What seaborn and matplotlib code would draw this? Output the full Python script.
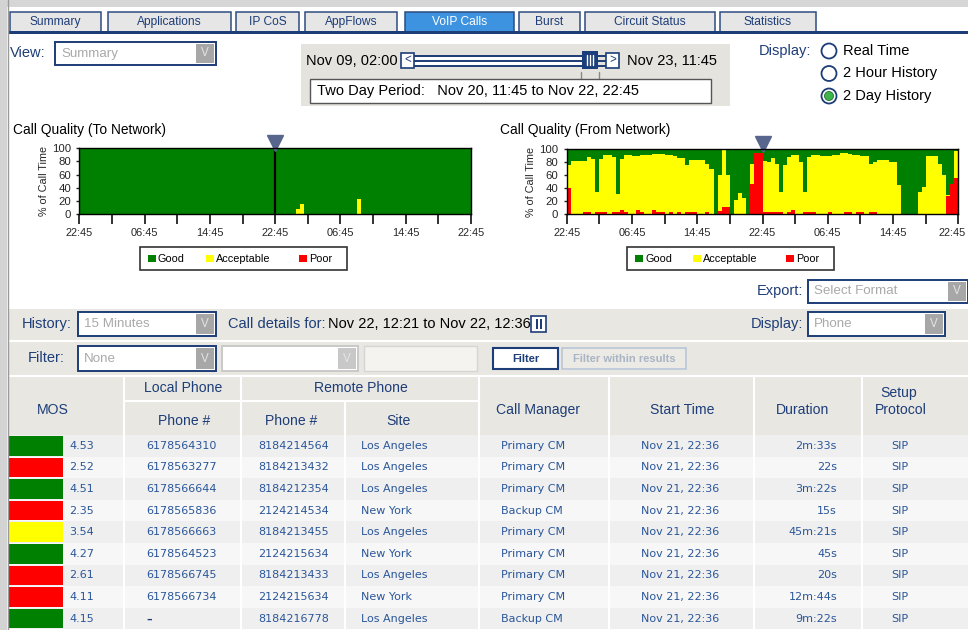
import numpy as np
import pandas as pd
import matplotlib
matplotlib.use("Agg")
import matplotlib.pyplot as plt
import matplotlib.transforms as mtrans
import seaborn as sns
from matplotlib import font_manager
from matplotlib.patches import Rectangle, Circle

# ---- chart data -------------------------------------------------------------
# half-hour bins over the two day window that starts at 22:45
binHours = np.arange(0.25, 48, 0.5)
tickLabels = ["22:45", "06:45", "14:45", "22:45", "06:45", "14:45", "22:45"]
qualityLevels = ["Good", "Acceptable", "Poor"]
qualityColors = {"Good": "#008000", "Acceptable": "#ffff00", "Poor": "#ff0000"}

# To Network: % acceptable per bin, no poor calls
toAcceptable = [
    0, 0, 0, 0, 0, 0, 0, 0, 0, 0, 0, 0, 0, 0, 0, 0, 0, 0, 0, 0, 0, 0, 0, 0,
    0, 0, 0, 0, 0, 0, 0, 0, 0, 0, 0, 0, 0, 0, 0, 0, 0, 0, 0, 0, 0, 0, 0, 0,
    0, 0, 0, 0, 0, 8, 15, 0, 0, 0, 0, 0, 0, 0, 0, 0, 0, 0, 0, 0, 23, 0, 0, 0,
    0, 0, 0, 0, 0, 0, 0, 0, 0, 0, 0, 0, 0, 0, 0, 0, 0, 0, 0, 0, 0, 0, 0, 0,
]
toPoor = [
    0, 0, 0, 0, 0, 0, 0, 0, 0, 0, 0, 0, 0, 0, 0, 0, 0, 0, 0, 0, 0, 0, 0, 0,
    0, 0, 0, 0, 0, 0, 0, 0, 0, 0, 0, 0, 0, 0, 0, 0, 0, 0, 0, 0, 0, 0, 0, 0,
    0, 0, 0, 0, 0, 0, 0, 0, 0, 0, 0, 0, 0, 0, 0, 0, 0, 0, 0, 0, 0, 0, 0, 0,
    0, 0, 0, 0, 0, 0, 0, 0, 0, 0, 0, 0, 0, 0, 0, 0, 0, 0, 0, 0, 0, 0, 0, 0,
]

# From Network: top of the acceptable band (poor + acceptable) and poor share
fromTop = [
    76, 82, 82, 82, 82, 88, 85, 35, 85, 91, 91, 88, 32, 85, 91, 91, 90, 90, 91, 92, 92, 93, 93, 93,
    91, 91, 90, 87, 87, 76, 83, 83, 83, 83, 78, 70, 0, 60, 100, 60, 0, 22, 33, 25, 0, 78, 95, 95,
    82, 81, 86, 77, 35, 76, 88, 91, 91, 80, 35, 88, 91, 91, 89, 89, 90, 91, 92, 94, 94, 93, 91, 91,
    89, 89, 77, 81, 83, 83, 83, 80, 80, 45, 0, 0, 0, 0, 35, 42, 89, 89, 89, 77, 60, 30, 47, 98,
]
fromPoor = [
    40, 0, 0, 0, 3, 3, 0, 3, 3, 3, 0, 3, 3, 6, 3, 0, 0, 6, 3, 0, 0, 6, 3, 3,
    0, 3, 0, 3, 0, 3, 3, 3, 0, 0, 3, 0, 0, 5, 11, 11, 0, 0, 0, 0, 0, 47, 95, 95,
    3, 3, 3, 3, 3, 0, 3, 6, 0, 0, 3, 3, 3, 0, 0, 0, 3, 0, 0, 0, 3, 3, 0, 3,
    3, 0, 3, 3, 0, 0, 0, 0, 0, 0, 0, 0, 0, 0, 0, 0, 0, 0, 0, 0, 0, 28, 47, 56,
]

# ---- call detail table ------------------------------------------------------
mosQuality = ["Good", "Poor", "Good", "Poor", "Acceptable", "Good", "Poor", "Poor", "Good"]
mosScores = ["4.53", "2.52", "4.51", "2.35", "3.54", "4.27", "2.61", "4.11", "4.15"]
localPhones = ["6178564310", "6178563277", "6178566644", "6178565836", "6178566663",
               "6178564523", "6178566745", "6178566734", "–"]
remotePhones = ["8184214564", "8184213432", "8184212354", "2124214534", "8184213455",
                "2124215634", "8184213433", "2124215634", "8184216778"]
sites = ["Los Angeles", "Los Angeles", "Los Angeles", "New York", "Los Angeles",
         "New York", "Los Angeles", "New York", "Los Angeles"]
callManagers = ["Primary CM", "Primary CM", "Primary CM", "Backup CM", "Primary CM",
                "Primary CM", "Primary CM", "Primary CM", "Backup CM"]
startTimes = ["Nov 21, 22:36"] * 9
durations = ["2m:33s", "22s", "3m:22s", "15s", "45m:21s", "45s", "20s", "12m:44s", "9m:22s"]
protocols = ["SIP"] * 9

tabNames = ["Summary", "Applications", "IP CoS", "AppFlows", "VoIP Calls", "Burst",
            "Circuit Status", "Statistics"]
activeTab = "VoIP Calls"
displayModes = ["Real Time", "2 Hour History", "2 Day History"]
selectedMode = "2 Day History"

W, H = 968, 630
navy = "#1d3d78"
tableBlue = "#2a5699"
beige = "#e9e7e2"

sns.set_theme(style="white")
fontNames = {f.name for f in font_manager.fontManager.ttflist}
if "Liberation Sans Narrow" in fontNames:
    uiFont, fontScale = "Liberation Sans Narrow", 1.0
else:
    uiFont, fontScale = "Liberation Sans", 0.84
plt.rcParams["font.family"] = [uiFont, "DejaVu Sans"]


def pixRect(x0, y0, x1, y1):
    return [x0 / W, 1 - y1 / H, (x1 - x0) / W, (y1 - y0) / H]


def box(ui, x0, y0, x1, y1, fc, ec="none", lw=1.0, z=1):
    ui.add_patch(Rectangle((x0, y0), x1 - x0, y1 - y0, facecolor=fc, edgecolor=ec,
                           linewidth=lw, zorder=z))


def txt(ui, x, y, s, size=12.5, color=navy, ha="left", weight="normal", family=None, z=5):
    fam = family if family else uiFont
    sz = size if family else size * fontScale
    ui.text(x, y, s, fontsize=sz, color=color, ha=ha, va="center", fontweight=weight,
            family=fam, zorder=z)


def dropdown(ui, x0, y0, x1, y1, label, enabled=True):
    ec = navy if enabled else "#c9c9c9"
    box(ui, x0, y0, x1, y1, "white", ec, 1.4, z=2)
    btn = "#a7a7a7" if enabled else "#c8c8c8"
    box(ui, x1 - 20, y0 + 2, x1 - 2, y1 - 2, btn, z=3)
    txt(ui, x1 - 11, (y0 + y1) / 2, "V", 10, "#e4e4e4", ha="center")
    if label:
        txt(ui, x0 + 6, (y0 + y1) / 2, label, 11.5, "#a9a9a9")


def qualityFrame(topVals, poorVals):
    top = np.array(topVals)
    poor = np.array(poorVals)
    return pd.concat([
        pd.DataFrame({"hour": binHours, "quality": "Good", "pct": 100 - top}),
        pd.DataFrame({"hour": binHours, "quality": "Acceptable", "pct": top - poor}),
        pd.DataFrame({"hour": binHours, "quality": "Poor", "pct": poor}),
    ], ignore_index=True)


def drawQuality(fig, ax, frame, markLine, nudgeLast):
    ax.set_facecolor("#008000")
    sns.histplot(data=frame, x="hour", weights="pct", hue="quality", hue_order=qualityLevels,
                 multiple="stack", bins=96, binrange=(0, 48), palette=qualityColors,
                 alpha=1, linewidth=0, shrink=1, antialiased=False, legend=False, ax=ax)
    ax.set_xlim(0, 48)
    ax.set_ylim(0, 100)
    ax.set_xticks(np.arange(0, 49, 8), labels=tickLabels)
    ax.set_xticks(np.arange(4, 48, 8), minor=True)
    ax.set_yticks(np.arange(0, 101, 20))
    ax.tick_params(axis="x", which="both", direction="out", length=7, width=1.3,
                   color="#222222", labelsize=9.4 * fontScale, pad=3, bottom=True)
    ax.tick_params(axis="y", direction="out", length=2, width=1, color="#222222",
                   labelsize=9.8 * fontScale, pad=4, left=True)
    ax.set_xlabel("")
    ax.set_ylabel("% of Call Time", fontsize=9.2 * fontScale, labelpad=2)
    for sp in ax.spines.values():
        sp.set_visible(True)
        sp.set_color("black")
        sp.set_linewidth(1)
    if markLine:
        ax.axvline(24, color="black", lw=1.6)
    ax.plot([24], [108], marker="v", markersize=11, color="#58668e", clip_on=False)
    if nudgeLast:
        # the page keeps the last time label inside its right edge
        last = ax.get_xticklabels()[-1]
        last.set_transform(last.get_transform() +
                           mtrans.ScaledTranslation(-6 / 100, 0, fig.dpi_scale_trans))


def drawLegend(ui, x0):
    box(ui, x0, 247, x0 + 207, 270, "white", "#333333", 1.2)
    offsets = [8, 66, 159]
    for name, off in zip(qualityLevels, offsets):
        box(ui, x0 + off, 254.5, x0 + off + 7.5, 262, qualityColors[name], z=3)
        txt(ui, x0 + off + 10, 258.5, name, 9.3, "black")


def drawPage():
    fig = plt.figure(figsize=(W / 100, H / 100), dpi=100)
    ui = fig.add_axes([0, 0, 1, 1])
    ui.set_xlim(0, W)
    ui.set_ylim(H, 0)
    ui.axis("off")

    # frame
    box(ui, 0, 0, W, 7, "#d6d6d6")
    box(ui, 0, 0, 7, H, "#d3d3d3")
    ui.plot([7.5, 7.5], [0, H], color="#9a9a9a", lw=1, zorder=4)

    # tabs
    tabSpans = [(10, 101), (108, 231), (236, 299), (305, 397), (405, 514), (519, 580),
                (585, 715), (720, 816)]
    for name, (x0, x1) in zip(tabNames, tabSpans):
        active = name == activeTab
        box(ui, x0, 12, x1, 32, "#3d93e0" if active else "#e6e6e6", "#2d4d80", 1.1)
        txt(ui, (x0 + x1) / 2, 22, name, 10.3, "white" if active else navy, ha="center")
    box(ui, 8, 31, W, 34, navy, z=3)

    # view selector
    txt(ui, 10, 53, "View:")
    dropdown(ui, 55, 42, 216, 65, "Summary")

    # time slider panel
    box(ui, 301, 44, 730, 106, "#e5e3de")
    txt(ui, 306, 61, "Nov 09, 02:00", 12.5, "black")
    txt(ui, 627, 61, "Nov 23, 11:45", 12.5, "black")
    for yy in (55.5, 60.5, 65.5):
        ui.plot([414, 606], [yy, yy], color=navy, lw=1.4, zorder=3)
    box(ui, 414, 56.5, 582, 59.5, "white", z=3)
    box(ui, 414, 61.5, 582, 64.5, "white", z=3)
    box(ui, 401, 53, 414, 68, "white", navy, 1.2, z=4)
    txt(ui, 407.5, 60, "<", 10, navy, ha="center")
    box(ui, 606, 53, 619, 68, "white", navy, 1.2, z=4)
    txt(ui, 612.5, 60, ">", 10, navy, ha="center")
    box(ui, 582, 51, 598, 69, "#1b3f7a", z=4)
    for xx in (587, 590, 593):
        ui.plot([xx, xx], [55, 65], color="white", lw=1, zorder=5)
    for xx in (581, 599):
        ui.plot([xx, xx], [72, 79], color="#8a8a8a", lw=1, zorder=3)
    box(ui, 310, 79, 711, 103, "white", "#555555", 1.0, z=3)
    txt(ui, 317, 91, "Two Day Period:   Nov 20, 11:45 to Nov 22, 22:45", 12.5, "black")

    # display radio buttons
    txt(ui, 759, 51, "Display:")
    for i, mode in enumerate(displayModes):
        yy = 51 + i * 22.5
        ui.add_patch(Circle((829, yy), 7.5, facecolor="white", edgecolor=navy, lw=1.3, zorder=3))
        if mode == selectedMode:
            ui.add_patch(Circle((829, yy), 4.5, facecolor="#3cb54a", edgecolor="#2a6a30",
                                lw=0.6, zorder=4))
        txt(ui, 843, yy, mode, 12.5, "black")

    # charts
    txt(ui, 13, 130, "Call Quality (To Network)", 11.8, "black")
    txt(ui, 500, 130, "Call Quality (From Network)", 11.8, "black")
    axL = fig.add_axes(pixRect(79.3, 148.3, 471, 214))
    drawQuality(fig, axL, qualityFrame(toAcceptable, toPoor), True, False)
    axR = fig.add_axes(pixRect(566.7, 149.3, 958.3, 214.3))
    drawQuality(fig, axR, qualityFrame(fromTop, fromPoor), False, True)
    drawLegend(ui, 140)
    drawLegend(ui, 627)

    # export
    txt(ui, 757, 291, "Export:")
    dropdown(ui, 808, 280, 968, 303, "Select Format")

    # grey control band + table header
    box(ui, 8, 309, W, 435, beige, z=0.5)
    ui.plot([8, W], [340.5, 340.5], color="white", lw=1.5, zorder=2)
    ui.plot([8, W], [376, 376], color="white", lw=1.5, zorder=2)

    txt(ui, 22, 324, "History:")
    dropdown(ui, 78, 312, 216, 336, "15 Minutes")
    txt(ui, 228, 324, "Call details for:")
    txt(ui, 328, 324, "Nov 22, 12:21 to Nov 22, 12:36", 12.5, "black")
    box(ui, 531, 316, 546, 332, "white", navy, 1.2, z=3)
    for xx in (536.5, 540.5):
        box(ui, xx - 1, 319, xx + 1, 329, navy, z=4)
    txt(ui, 751, 324, "Display:")
    dropdown(ui, 808, 312, 945, 336, "Phone")

    txt(ui, 28, 358, "Filter:")
    dropdown(ui, 78, 346, 216, 371, "None")
    dropdown(ui, 222, 346, 358, 371, "", enabled=False)
    box(ui, 364, 346, 477, 371, "#f4f3f0", "#d5d5d5", 1.0, z=2)
    box(ui, 493, 348, 558, 369, "white", navy, 1.5, z=2)
    txt(ui, 525.5, 358.5, "Filter", 9.5, navy, ha="center", weight="bold")
    box(ui, 562, 348, 686, 369, "#eceae5", "#b9c6d8", 1.2, z=2)
    txt(ui, 624, 358.5, "Filter within results", 9.5, "#a9b4c4", ha="center", weight="bold")

    colLines = [124, 241, 479, 609, 754, 862]
    for xx in colLines:
        ui.plot([xx, xx], [377, 435], color="white", lw=1.5, zorder=2)
    ui.plot([345, 345], [401, 435], color="white", lw=1.5, zorder=2)
    ui.plot([124, 479], [401, 401], color="white", lw=1.5, zorder=2)
    hdr = 12
    txt(ui, 53, 410, "MOS", hdr, ha="center")
    txt(ui, 183, 388, "Local Phone", hdr, ha="center")
    txt(ui, 361, 388, "Remote Phone", hdr, ha="center")
    txt(ui, 184, 421, "Phone #", hdr, ha="center")
    txt(ui, 291, 421, "Phone #", hdr, ha="center")
    txt(ui, 398, 421, "Site", hdr, ha="center")
    txt(ui, 538, 410, "Call Manager", hdr, ha="center")
    txt(ui, 682, 410, "Start Time", hdr, ha="center")
    txt(ui, 803, 410, "Duration", hdr, ha="center")
    txt(ui, 899, 393, "Setup", hdr, ha="center")
    txt(ui, 901, 410, "Protocol", hdr, ha="center")

    # table rows
    rowH = 21.6
    cell = "DejaVu Sans"
    for i in range(len(mosScores)):
        y0 = 435 + i * rowH
        yc = y0 + rowH / 2
        box(ui, 8, y0, W, y0 + rowH, "#efefef" if i % 2 == 0 else "#f7f7f7", z=0.5)
        box(ui, 9, y0 + 1, 63, y0 + rowH - 1, qualityColors[mosQuality[i]], z=2)
        txt(ui, 69, yc, mosScores[i], 8, tableBlue, family=cell)
        if localPhones[i] == "–":
            txt(ui, 146, yc + 1, "–", 8, navy, weight="bold", family=cell)
        else:
            txt(ui, 146, yc, localPhones[i], 8, tableBlue, family=cell)
        txt(ui, 258, yc, remotePhones[i], 8, tableBlue, family=cell)
        txt(ui, 361, yc, sites[i], 8, tableBlue, family=cell)
        txt(ui, 501, yc, callManagers[i], 8, tableBlue, family=cell)
        txt(ui, 641, yc, startTimes[i], 8, tableBlue, family=cell)
        txt(ui, 837, yc, durations[i], 8, tableBlue, ha="right", family=cell)
        txt(ui, 900, yc, protocols[i], 8, tableBlue, ha="center", family=cell)
    for xx in [124, 241, 345, 479, 609, 754, 862]:
        ui.plot([xx, xx], [435, H], color="white", lw=1.5, zorder=1)

    fig.savefig("out.png", dpi=100)
    plt.close(fig)


if __name__ == "__main__":
    drawPage()
